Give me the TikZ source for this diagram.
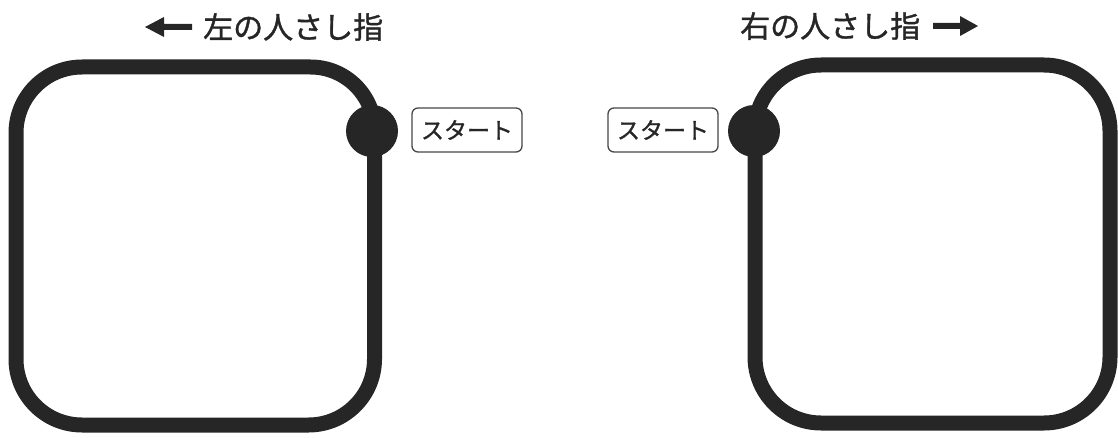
\documentclass[tikz,border=0pt]{standalone}
\usepackage{fontspec}
\newfontfamily\jp[FakeBold=1.2]{Noto Sans CJK JP}
\definecolor{ink}{HTML}{262626}
\tikzset{
  loopline/.style={draw=ink, line width=15pt, line join=round},
  startdot/.style={circle, fill=ink, minimum size=52pt, inner sep=0pt},
  startbox/.style={draw=ink!85, line width=1.3pt, rounded corners=6pt, minimum width=110pt, minimum height=44pt, inner sep=0pt, font=\jp\fontsize{23pt}{23pt}\selectfont, text=ink},
  title/.style={inner sep=0pt, font=\jp\fontsize{30pt}{30pt}\selectfont, text=ink},
  arrowshape/.style={fill=ink}
}
\begin{document}
\begin{tikzpicture}[x=1pt,y=1pt]
\useasboundingbox (0,0) rectangle (1118,437);
% left loop
\draw[loopline] (374.5,306) -- (374.5,78) arc (0:-90:66) -- (82,12) arc (270:180:66) -- (16,304) arc (180:90:66) -- (310.5,370) arc (90:0:64);
\node[startdot] (ldot) at (372,306) {};
\node[startbox] (lstart) at (467,307) {スタート};
% right loop
\draw[loopline] (755,306) -- (755,80) arc (180:270:66) -- (1044,14) arc (-90:0:66) -- (1110,306) arc (0:90:66) -- (821,372) arc (90:180:66);
\node[startdot] (rdot) at (754,306) {};
\node[startbox] (rstart) at (663,307) {スタート};
% titles
\node[title, anchor=west] (ltitle) at (203,410) {左の人さし指};
\node[title, anchor=west] (rtitle) at (740,411) {右の人さし指};
% arrows
\fill[arrowshape] (145,410) -- (164,420) -- (164,413) -- (192,413) -- (192,407) -- (164,407) -- (164,400) -- cycle;
\fill[arrowshape] (978,411) -- (960,421) -- (960,414) -- (933,414) -- (933,408) -- (960,408) -- (960,401) -- cycle;
\end{tikzpicture}
\end{document}
